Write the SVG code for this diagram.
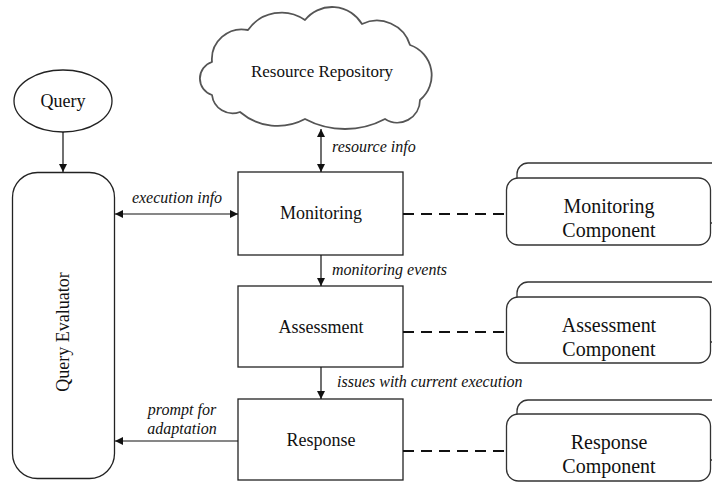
<svg xmlns="http://www.w3.org/2000/svg" width="712" height="482" viewBox="0 0 712 482">
  <style>
    .box { fill: #fff; stroke: #222; stroke-width: 1.3; }
    .comp { fill: #fff; stroke: #333; stroke-width: 1.3; }
    .lbl { font-family: "Liberation Serif", "Times New Roman", serif; font-size: 18px; fill: #111; text-anchor: middle; }
    .clbl { font-family: "Liberation Serif", "Times New Roman", serif; font-size: 20px; fill: #111; text-anchor: middle; }
    .note { font-family: "Liberation Serif", "Times New Roman", serif; font-size: 16px; font-style: italic; fill: #111; }
    .arrow { stroke: #111; stroke-width: 1.2; fill: none; }
    .dash { stroke: #111; stroke-width: 2; stroke-dasharray: 11 7; fill: none; }
  </style>
  <defs>
    <marker id="head" viewBox="0 0 10 10" refX="10" refY="5" markerWidth="8" markerHeight="8" markerUnits="userSpaceOnUse" orient="auto-start-reverse">
      <path d="M0,0 L10,5 L0,10 z" fill="#111"/>
    </marker>
  </defs>

  <rect width="712" height="482" fill="#fff"/>

  <!-- cloud -->
  <g id="resource-repository">
    <path fill="#fff" stroke="#555" stroke-width="1.8" stroke-linejoin="round"
      d="M212,62 A30,30 0 0 1 248,30 A41,41 0 0 1 305,20 A34.8,34.8 0 0 1 362,24 A34.6,34.6 0 0 1 410,45 A32,32 0 0 1 420,100 A22.7,22.7 0 0 1 385,119 A85,85 0 0 1 305,119 A58,58 0 0 1 240,112 A20.8,20.8 0 0 1 212,95 A17.3,17.3 0 0 1 212,62 Z"/>
    <text class="lbl" x="322" y="77" style="font-size:17px">Resource Repository</text>
  </g>

  <g id="query">
    <ellipse class="box" cx="63" cy="101" rx="49" ry="31"/>
    <text class="lbl" x="63" y="107">Query</text>
  </g>

  <g id="query-evaluator">
    <rect class="box" x="12.5" y="172.5" width="102" height="306" rx="25"/>
    <text class="lbl" transform="translate(69,332) rotate(-90)" x="0" y="0">Query Evaluator</text>
  </g>

  <g id="monitoring">
    <rect class="box" x="238" y="172" width="165" height="83"/>
    <text class="lbl" x="321" y="219">Monitoring</text>
  </g>

  <g id="assessment">
    <rect class="box" x="238" y="286" width="165" height="81"/>
    <text class="lbl" x="321" y="333">Assessment</text>
  </g>

  <g id="response">
    <rect class="box" x="238" y="399" width="165" height="81"/>
    <text class="lbl" x="321" y="446">Response</text>
  </g>

  <!-- component cards: a back card peeking above a front card; labels slightly stretched vertically -->
  <g id="monitoring-component">
    <rect class="comp" x="517" y="163" width="210" height="60" rx="11"/>
    <rect class="comp" x="506.5" y="178" width="204" height="67" rx="12"/>
    <text class="clbl" transform="translate(609,213) scale(1,1.08)">Monitoring</text>
    <text class="clbl" transform="translate(609,237) scale(1,1.08)">Component</text>
  </g>

  <g id="assessment-component">
    <rect class="comp" x="517" y="282" width="210" height="60" rx="11"/>
    <rect class="comp" x="506.5" y="297" width="204" height="66" rx="12"/>
    <text class="clbl" transform="translate(609,332) scale(1,1.08)">Assessment</text>
    <text class="clbl" transform="translate(609,356) scale(1,1.08)">Component</text>
  </g>

  <g id="response-component">
    <rect class="comp" x="517" y="400" width="210" height="60" rx="11"/>
    <rect class="comp" x="506.5" y="414" width="204" height="67" rx="12"/>
    <text class="clbl" transform="translate(609,449) scale(1,1.08)">Response</text>
    <text class="clbl" transform="translate(609,473) scale(1,1.08)">Component</text>
  </g>

  <g id="connectors">
    <line class="arrow" x1="63" y1="132" x2="63" y2="172" marker-end="url(#head)"/>
    <line class="arrow" x1="321" y1="129" x2="321" y2="172" marker-start="url(#head)" marker-end="url(#head)"/>
    <line class="arrow" x1="115" y1="214" x2="238" y2="214" marker-start="url(#head)" marker-end="url(#head)"/>
    <line class="arrow" x1="321" y1="255" x2="321" y2="286" marker-end="url(#head)"/>
    <line class="arrow" x1="321" y1="367" x2="321" y2="399" marker-end="url(#head)"/>
    <line class="arrow" x1="238" y1="441" x2="115" y2="441" marker-end="url(#head)"/>

    <line class="dash" x1="403" y1="214" x2="506" y2="214"/>
    <line class="dash" x1="403" y1="332" x2="506" y2="332"/>
    <line class="dash" x1="403" y1="451" x2="506" y2="451"/>

    <text class="note" x="332" y="152">resource info</text>
    <text class="note" x="177" y="203" text-anchor="middle">execution info</text>
    <text class="note" x="332" y="275">monitoring events</text>
    <text class="note" x="337" y="387">issues with current execution</text>
    <text class="note" x="182" y="415" text-anchor="middle">prompt for</text>
    <text class="note" x="182" y="434" text-anchor="middle">adaptation</text>
  </g>
</svg>
